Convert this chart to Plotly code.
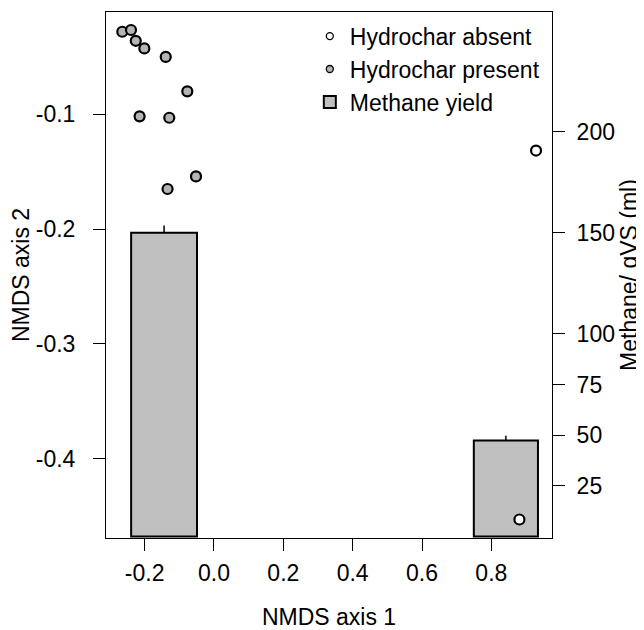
import plotly.graph_objects as go

# Data
present_x = [-0.2645, -0.2394, -0.2257, -0.2009, -0.1392, -0.0770, -0.2146, -0.1290, -0.0519, -0.1340]
present_y = [-0.0280, -0.0265, -0.0359, -0.0425, -0.0499, -0.0799, -0.1017, -0.1029, -0.1540, -0.1650]
absent_x = [0.929, 0.881]
absent_y = [-0.1315, -0.4529]
bar_x = [-0.144, 0.842]
bar_width = [0.19, 0.185]
methane = [150.0, 47.3]
methane_err = [3.5, 2.4]

x_ticks = [-0.2, 0.0, 0.2, 0.4, 0.6, 0.8]
x_ticktext = ["-0.2", "0.0", "0.2", "0.4", "0.6", "0.8"]
y_ticks = [-0.4, -0.3, -0.2, -0.1]
y_ticktext = ["-0.4", "-0.3", "-0.2", "-0.1"]
m_ticks = [25, 50, 75, 100, 150, 200]

FONT = "Liberation Sans, Arial, sans-serif"
FS = 23
GREY_PT = "#b4b4b4"

fig = go.Figure()

fig.add_trace(go.Bar(
    x=bar_x, y=methane, width=bar_width, name="Methane yield",
    marker=dict(color="#c0c0c0", line=dict(color="black", width=2)),
    error_y=dict(type="data", array=methane_err, arrayminus=[0, 0], symmetric=False,
                 width=0, thickness=1.5, color="black"),
    xaxis="x", yaxis="y", legendrank=3,
))
fig.add_trace(go.Scatter(
    x=absent_x, y=absent_y, mode="markers", name="Hydrochar absent", showlegend=False,
    marker=dict(symbol="circle", size=10, color="white", line=dict(color="black", width=2.2)),
    xaxis="x", yaxis="y2",
))
fig.add_trace(go.Scatter(
    x=present_x, y=present_y, mode="markers", name="Hydrochar present", showlegend=False,
    marker=dict(symbol="circle", size=10, color=GREY_PT, line=dict(color="black", width=2.2)),
    xaxis="x", yaxis="y2",
))
# legend entries (smaller symbols, as in the original legend)
fig.add_trace(go.Scatter(
    x=[None], y=[None], mode="markers", name="Hydrochar absent",
    marker=dict(symbol="circle", size=7, color="white", line=dict(color="black", width=1.3)),
    xaxis="x", yaxis="y2", legendrank=1, hoverinfo="skip",
))
fig.add_trace(go.Scatter(
    x=[None], y=[None], mode="markers", name="Hydrochar present",
    marker=dict(symbol="circle", size=7, color=GREY_PT, line=dict(color="black", width=1.3)),
    xaxis="x", yaxis="y2", legendrank=2, hoverinfo="skip",
))

axis_common = dict(showline=True, linecolor="black", linewidth=1, ticks="outside",
                   ticklen=12, tickcolor="black", tickwidth=1, showgrid=False, zeroline=False,
                   automargin=False,
                   tickfont=dict(family=FONT, size=FS, color="black"))

# the page body adds an 8px offset, so the figure is 8px smaller and margins shifted
fig.update_layout(
    width=636, height=622,
    margin=dict(l=98, r=92, t=4, b=92),
    plot_bgcolor="white", paper_bgcolor="white",
    font=dict(family=FONT, size=FS, color="black"),
    barmode="overlay",
    xaxis=dict(range=[-0.3115, 0.975], tickvals=x_ticks, ticktext=x_ticktext,
               mirror=True, ticklabelstandoff=2,
               title=dict(text="NMDS axis 1", standoff=24, font=dict(family=FONT, size=FS)),
               **axis_common),
    yaxis=dict(range=[-0.8, 259], tickvals=m_ticks, side="right", mirror=True,
               ticklabelstandoff=7,
               title=dict(text="Methane/ gVS (ml)", standoff=6, font=dict(family=FONT, size=FS)),
               **axis_common),
    yaxis2=dict(range=[-0.469, -0.0108], tickvals=y_ticks, ticktext=y_ticktext,
                overlaying="y", side="left", ticklabelstandoff=13,
                title=dict(text="NMDS axis 2", standoff=10, font=dict(family=FONT, size=FS)),
                **axis_common),
    showlegend=True,
    legend=dict(x=0.457, y=0.995, xanchor="left", yanchor="top", bgcolor="rgba(0,0,0,0)",
                font=dict(family=FONT, size=FS), itemsizing="trace", tracegroupgap=0),
)

fig.write_html("out.html")
